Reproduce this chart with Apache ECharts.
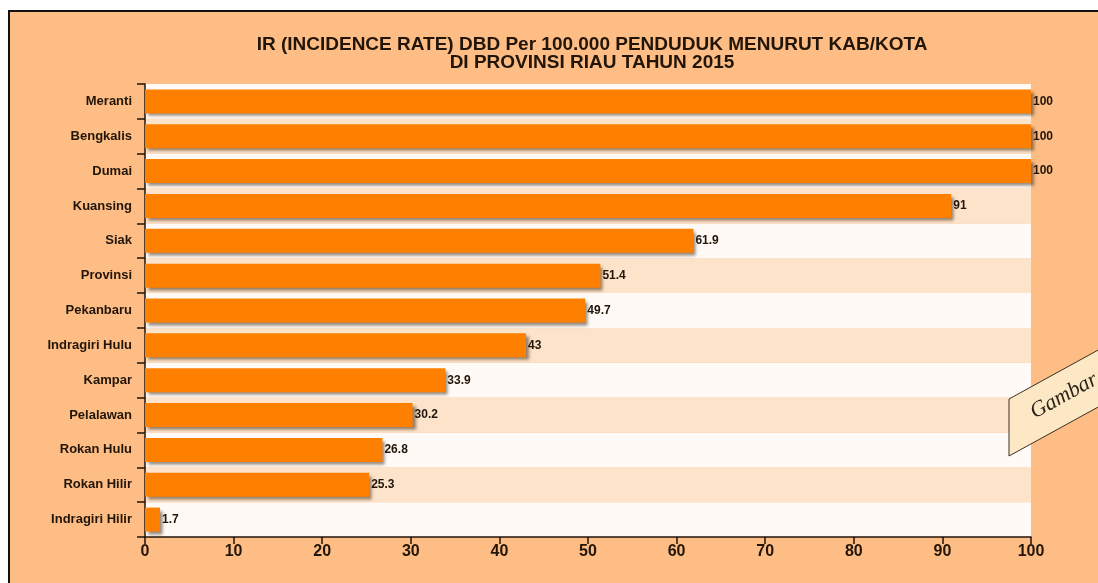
<!DOCTYPE html>
<html>
<head>
<meta charset="utf-8">
<script src="https://cdn.jsdelivr.net/npm/echarts@6/dist/echarts.min.js"></script>
<style>
  html, body { margin: 0; padding: 0; background: #fff; }
  #main { width: 1098px; height: 583px; }
</style>
</head>
<body>
<div id="main"></div>
<script>
// kab/kota, bottom to top as drawn
var kabKota = ['Indragiri Hilir', 'Rokan Hilir', 'Rokan Hulu', 'Pelalawan', 'Kampar',
  'Indragiri Hulu', 'Pekanbaru', 'Provinsi', 'Siak', 'Kuansing', 'Dumai', 'Bengkalis', 'Meranti'];
var irValues = [1.7, 25.3, 26.8, 30.2, 33.9, 43, 49.7, 51.4, 61.9, 91, 100, 100, 100];
var titleLines = ['IR (INCIDENCE RATE) DBD Per 100.000 PENDUDUK MENURUT KAB/KOTA', 'DI PROVINSI RIAU TAHUN 2015'];

var font = '"Liberation Sans", Arial, sans-serif';
var ink = '#22150a';

var chartDom = document.getElementById('main');
var myChart = echarts.init(chartDom);

var option = {
  backgroundColor: '#fff',
  animation: false,
  title: {
    text: titleLines.join('\n'),
    left: 587,
    textAlign: 'center',
    top: 31,
    textStyle: {
      fontFamily: font,
      fontSize: 19,
      fontWeight: 'bold',
      lineHeight: 18,
      color: ink
    }
  },
  graphic: [
    {
      type: 'rect',
      z: -10,
      shape: { x: 9, y: 11, width: 1200, height: 700 },
      style: { fill: '#fdbd84', stroke: '#111', lineWidth: 2 }
    },
    {
      type: 'polygon',
      z: 10,
      shape: { points: [[1009, 399], [1100, 349], [1100, 406], [1009, 456]] },
      style: { fill: '#fde8c6', stroke: '#3a3020', lineWidth: 1 }
    },
    {
      type: 'text',
      z: 11,
      x: 1064,
      y: 396,
      rotation: 29 * Math.PI / 180,
      style: {
        text: 'Gambar',
        fontFamily: '"Liberation Serif", "DejaVu Serif", serif',
        fontStyle: 'italic',
        fontSize: 22,
        fill: '#2a2418',
        align: 'center',
        verticalAlign: 'middle'
      }
    }
  ],
  grid: {
    left: 145,
    right: 67,
    top: 84,
    bottom: 46,
    containLabel: false
  },
  xAxis: {
    type: 'value',
    min: 0,
    max: 100,
    interval: 10,
    splitLine: { show: false },
    axisLine: { show: true, lineStyle: { color: ink, width: 1.5 } },
    axisTick: { show: true, length: 7, lineStyle: { color: ink, width: 1.5 } },
    axisLabel: {
      margin: 7,
      fontFamily: font,
      fontSize: 16,
      fontWeight: 'bold',
      color: ink
    }
  },
  yAxis: {
    type: 'category',
    data: kabKota,
    axisLine: { show: true, lineStyle: { color: ink, width: 1.5 } },
    axisTick: { show: true, length: 8, lineStyle: { color: ink, width: 1.5 } },
    axisLabel: {
      margin: 13,
      fontFamily: font,
      fontSize: 13,
      fontWeight: 'bold',
      color: ink
    },
    splitArea: {
      show: true,
      areaStyle: { color: ['#fffaf5', '#fde3ca'] }
    }
  },
  series: [
    {
      name: 'IR DBD',
      type: 'bar',
      data: irValues,
      barWidth: 24,
      itemStyle: {
        color: '#ff8000',
        shadowColor: 'rgba(60,40,20,0.55)',
        shadowBlur: 3,
        shadowOffsetX: 3,
        shadowOffsetY: 3
      },
      label: {
        show: true,
        position: 'right',
        distance: 2,
        fontFamily: font,
        fontSize: 12,
        fontWeight: 'bold',
        color: ink
      }
    }
  ]
};

option && myChart.setOption(option);
</script>
</body>
</html>
